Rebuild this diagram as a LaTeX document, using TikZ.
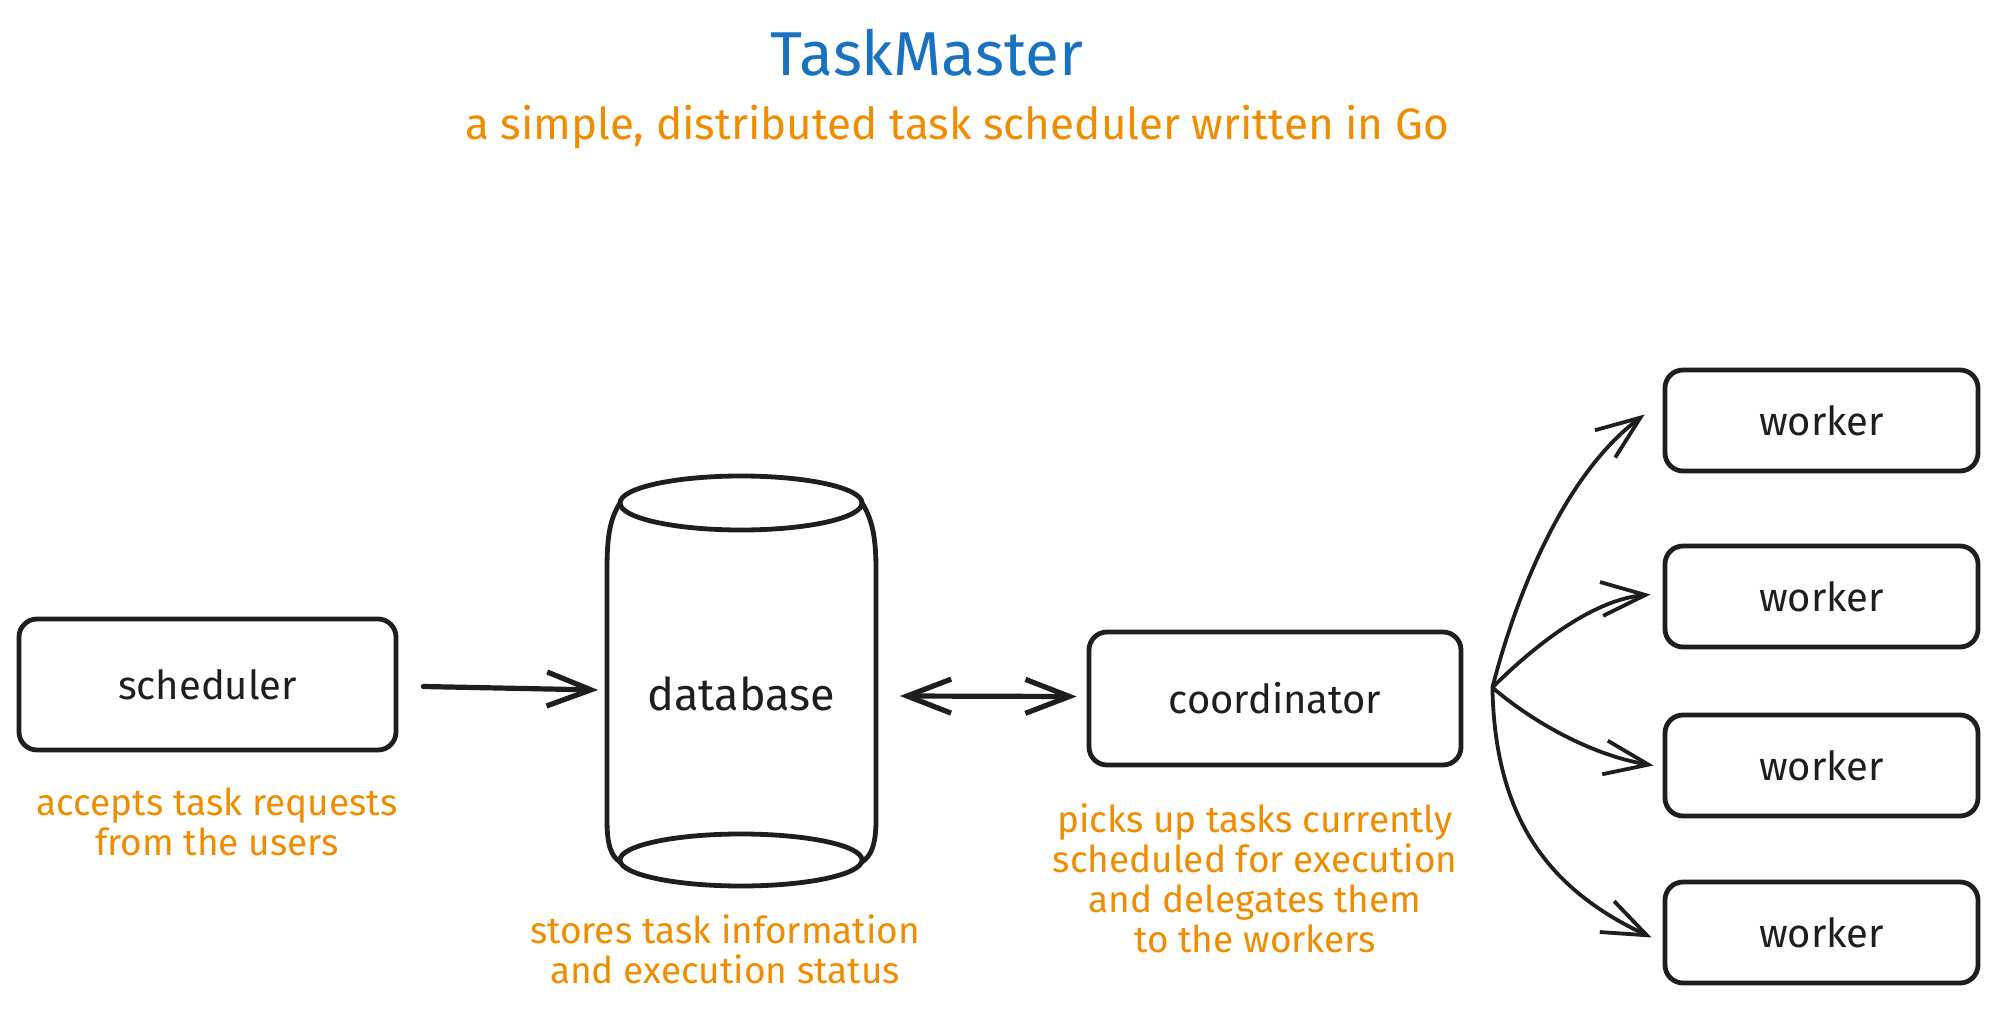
\documentclass[tikz,border=0pt]{standalone}
\usepackage{fontspec}
\setmainfont{Fira Sans}
\usetikzlibrary{arrows.meta,calc}
\definecolor{ink}{HTML}{1E1E1E}
\definecolor{titleblue}{HTML}{1971C2}
\definecolor{noteorange}{HTML}{F08C00}
\begin{document}
\begin{tikzpicture}[x=0.5pt,y=-0.5pt,
  box/.style={draw=ink, line width=2.4pt, rounded corners=9pt, inner sep=0pt,
    text=ink, font=\fontsize{20}{24}\selectfont},
  lbltext/.style={text=ink, inner sep=0pt, font=\fontsize{22.5}{26}\selectfont},
  note/.style={text=noteorange, align=center, inner sep=0pt, font=\fontsize{18.5}{20}\selectfont},
  arr/.style={draw=ink, line width=2.6pt, line cap=round, line join=round,
    -{Straight Barb[length=22pt,width=17pt]}},
  biarr/.style={draw=ink, line width=2.6pt, line cap=round, line join=round,
    {Straight Barb[length=22pt,width=17pt]}-{Straight Barb[length=22pt,width=17pt]}},
  fanarr/.style={draw=ink, line width=1.9pt, line cap=round, line join=round,
    -{Straight Barb[length=22pt,width=17pt]}},
  cylline/.style={draw=ink, line width=2.4pt, line cap=round, line join=round}]
\useasboundingbox[fill=white] (0,0) rectangle (1992,1010);

% titles
\node[text=titleblue, inner sep=0pt, font=\fontsize{31}{34}\selectfont] (title) at (927,53) {TaskMaster};
\node[text=noteorange, inner sep=0pt, font=\fontsize{22}{26}\selectfont] (subtitle) at (957,127) {a simple, distributed task scheduler written in Go};

% scheduler
\node[box, minimum width=188.5pt, minimum height=65.5pt] (sched) at (207.5,684.5) {scheduler};
\node[note] (schednote) at (217,822) {accepts task requests\\from the users};

% database cylinder
\draw[cylline] (741,503) ellipse [x radius=121, y radius=27];
\draw[cylline] (741,860) ellipse [x radius=121, y radius=26];
\draw[cylline] (620,503) .. controls (609,520) and (607,540) .. (607,570)
  -- (607,820) .. controls (607,845) and (611,856) .. (620,862);
\draw[cylline] (862,503) .. controls (873,520) and (876,540) .. (876,570)
  -- (876,820) .. controls (876,845) and (871,856) .. (862,862);
\node[lbltext, minimum width=134.5pt] (db) at (741,694) {database};
\node[note] (dbnote) at (725,949) {stores task information\\and execution status};

% coordinator
\node[box, minimum width=186pt, minimum height=66.5pt] (coord) at (1275,698.5) {coordinator};
\node[note] (coordnote) at (1255,878) {picks up tasks currently\\scheduled for execution\\and delegates them\\to the workers};

% workers
\node[box, minimum width=156.5pt, minimum height=50.5pt] (w1) at (1821.5,420.5) {worker};
\node[box, minimum width=156.5pt, minimum height=50.5pt] (w2) at (1821.5,596.5) {worker};
\node[box, minimum width=156.5pt, minimum height=50.5pt] (w3) at (1821.5,765.5) {worker};
\node[box, minimum width=156.5pt, minimum height=50.5pt] (w4) at (1821.5,932.5) {worker};

% connectors
\draw[arr] ($(sched.east)+(25,2)$) -- ($(db.west)+(-8,-4)$);
\draw[biarr] ($(db.east)+(24,2)$) -- ($(coord.west)+(-10,-2)$);

\coordinate (fan) at ($(coord.east)+(29,-11)$);
\draw[fanarr] (fan) .. controls (1520,580) and (1570,470) .. ($(w1.west)+(-18,-6)$);
\draw[fanarr] (fan) .. controls (1530,650) and (1590,600) .. ($(w2.west)+(-12,-2)$);
\draw[fanarr] (fan) .. controls (1530,720) and (1590,755) .. ($(w3.west)+(-9,0)$);
\draw[fanarr] (fan) .. controls (1495,820) and (1550,890) .. ($(w4.west)+(-11,5)$);
\end{tikzpicture}
\end{document}
